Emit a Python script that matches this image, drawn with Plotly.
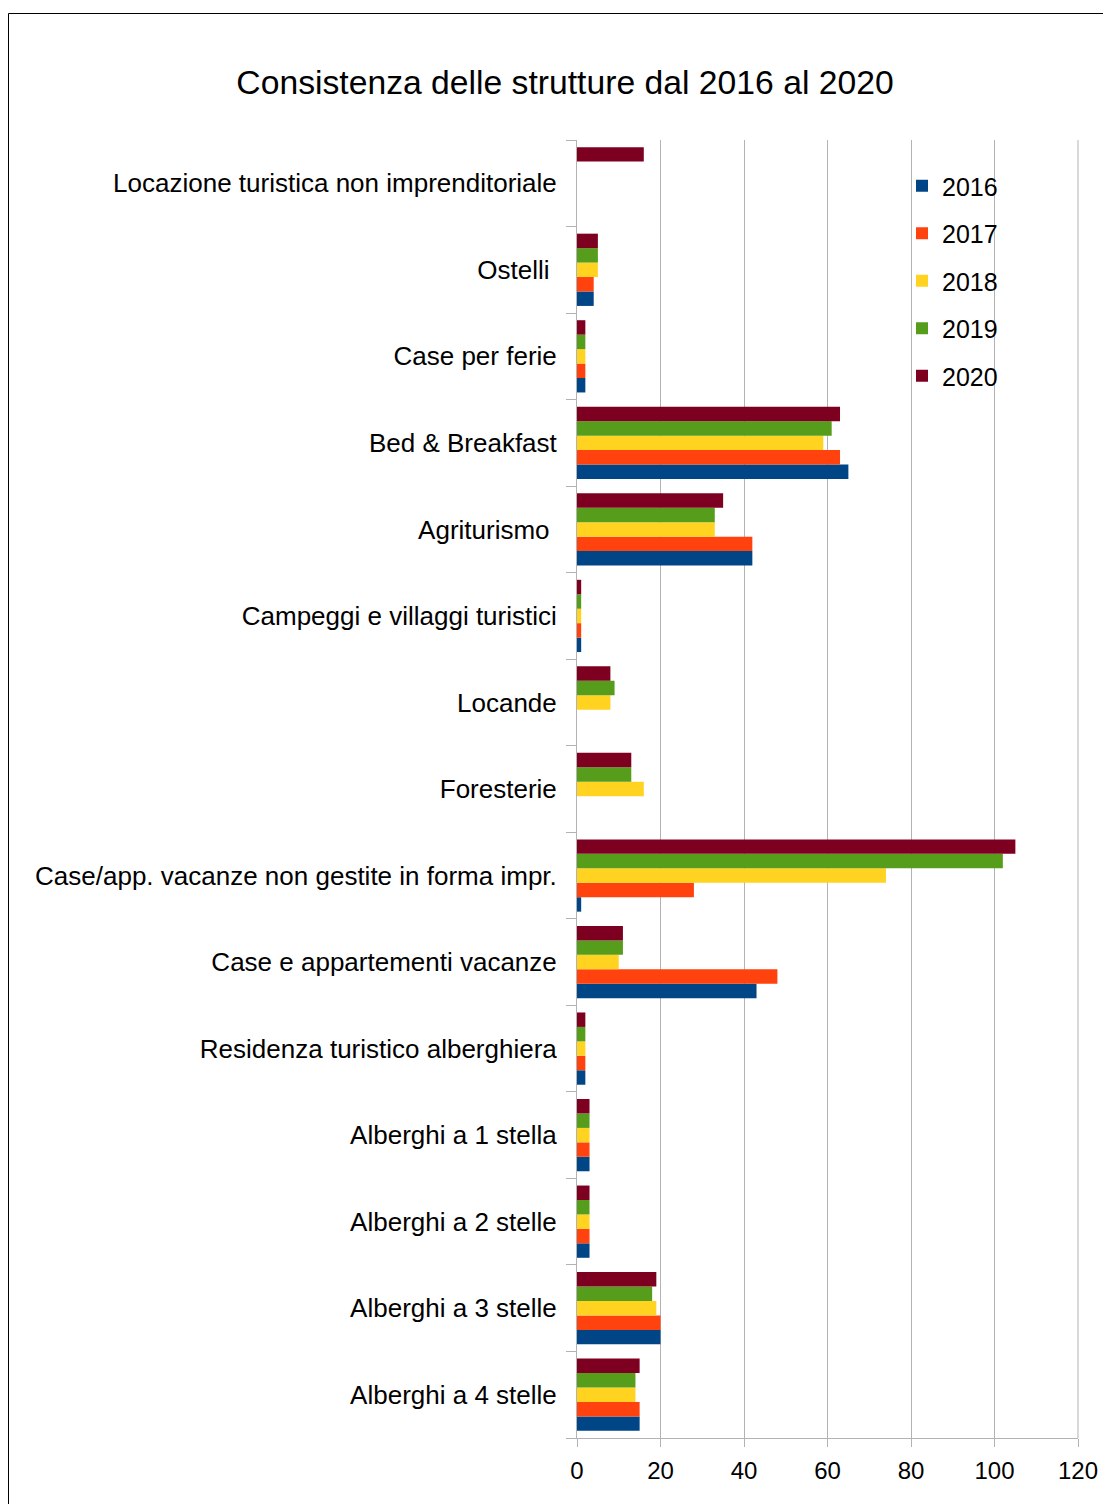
import plotly.graph_objects as go

categories = [
    "Alberghi a 4 stelle",
    "Alberghi a 3 stelle",
    "Alberghi a 2 stelle",
    "Alberghi a 1 stella",
    "Residenza turistico alberghiera",
    "Case e appartementi vacanze",
    "Case/app. vacanze non gestite in forma impr.",
    "Foresterie",
    "Locande",
    "Campeggi e villaggi turistici",
    "Agriturismo\u00a0",
    "Bed & Breakfast",
    "Case per ferie",
    "Ostelli\u00a0",
    "Locazione turistica non imprenditoriale",
]

years = ["2016", "2017", "2018", "2019", "2020"]

v2016 = [15, 20, 3, 3, 2, 43, 1, 0, 0, 1, 42, 65, 2, 4, 0]
v2017 = [15, 20, 3, 3, 2, 48, 28, 0, 0, 1, 42, 63, 2, 4, 0]
v2018 = [14, 19, 3, 3, 2, 10, 74, 16, 8, 1, 33, 59, 2, 5, 0]
v2019 = [14, 18, 3, 3, 2, 11, 102, 13, 9, 1, 33, 61, 2, 5, 0]
v2020 = [15, 19, 3, 3, 2, 11, 105, 13, 8, 1, 35, 63, 2, 5, 16]

series = [v2016, v2017, v2018, v2019, v2020]
colors = ["#004586", "#ff420e", "#ffd320", "#579d1c", "#7e0021"]

fig = go.Figure()
for name, vals, col in zip(years, series, colors):
    fig.add_trace(go.Bar(
        y=categories, x=vals, name=name, orientation="h",
        legendgroup=name,
        marker=dict(color=col, line=dict(width=0)),
    ))

# figure coordinates (page is offset by 8px body margin)
W, H = 1103, 1496
L, R, T, B = 569, 1070, 132, 1430
pw, ph = R - L, B - T

def px_to_paper_x(px):
    return (px - L) / pw

def px_to_paper_y(py):
    return (B - py) / ph

font = "Liberation Sans, Arial, sans-serif"

fig.update_layout(
    width=W, height=H,
    margin=dict(l=L, r=W - R, t=T, b=H - B, autoexpand=False),
    paper_bgcolor="white", plot_bgcolor="white",
    barmode="group", bargap=0.165, bargroupgap=0,
    font=dict(family=font, size=26, color="black"),
    title=dict(text="Consistenza delle strutture dal 2016 al 2020",
               x=557 / W, xanchor="center", xref="container",
               y=1 - 74 / H, yanchor="middle", yref="container",
               font=dict(family=font, size=33.7, color="black")),
    xaxis=dict(range=[0, 120], dtick=20, showgrid=True, gridcolor="#b3b3b3",
               gridwidth=1, showline=True, linecolor="#b3b3b3", linewidth=1,
               ticks="outside", ticklen=8, tickcolor="#b3b3b3",
               ticklabelstandoff=3,
               tickfont=dict(size=24, color="black"), zeroline=False),
    yaxis=dict(type="category", showline=True, linecolor="#b3b3b3", linewidth=1,
               ticks="outside", tickson="boundaries", ticklen=10,
               tickcolor="#b3b3b3", showgrid=False, ticklabelstandoff=14,
               tickfont=dict(size=26, color="black"),
               automargin=False),
    legend=dict(x=px_to_paper_x(894), xanchor="left",
                y=px_to_paper_y(155), yanchor="top",
                traceorder="grouped", font=dict(size=25, color="black"),
                tracegroupgap=12,
                bgcolor="rgba(0,0,0,0)"),
    showlegend=True,
)

# right plot frame line at 120
fig.add_shape(type="line", xref="paper", yref="paper",
              x0=1, x1=1, y0=0, y1=1, line=dict(color="#b3b3b3", width=1))

# outer frame
fig.add_shape(type="rect", xref="paper", yref="paper",
              x0=px_to_paper_x(0.5), x1=px_to_paper_x(1120),
              y0=px_to_paper_y(1520), y1=px_to_paper_y(5.5),
              line=dict(color="black", width=1), fillcolor="rgba(0,0,0,0)",
              layer="below")

fig.write_html("out.html")
